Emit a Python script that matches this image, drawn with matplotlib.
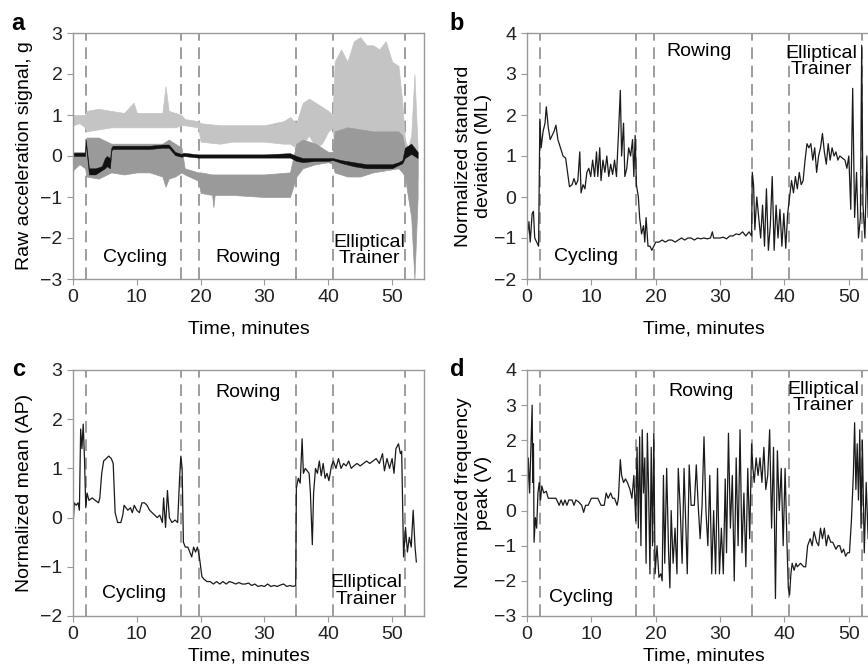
import matplotlib
matplotlib.use("Agg")
import matplotlib.pyplot as plt

plt.rcParams['font.family'] = ['Liberation Sans', 'DejaVu Sans']
plt.rcParams['font.size'] = 14

# activity boundaries (minutes)
boundaries = [2, 17, 19.7, 35, 40.7, 52]

# panel a: raw signal envelopes (light gray, mid gray, black)
light_t = [0, 1, 1.9, 2.1, 4, 6, 8, 9.5, 10, 12, 14, 14.5, 15, 16, 17, 17.5, 19.6, 20, 23, 25, 30, 33, 34, 35,
           36, 37, 38, 39, 40, 40.7, 41, 42, 43, 44, 45, 46, 47, 48, 49, 50, 51, 51.6, 52, 52.5, 53, 53.5, 54]
light_hi = [1.0, 1.0, 1.0, 1.1, 1.15, 1.1, 1.05, 1.3, 1.05, 1.05, 1.05, 1.7, 1.1, 1.05, 1.0, 0.9, 0.85, 0.8,
            0.75, 0.75, 0.75, 0.85, 0.95, 0.8, 1.3, 1.4, 1.3, 1.2, 1.1, 1.0, 2.3, 2.6, 2.3, 2.8, 2.9, 2.7, 2.7,
            2.6, 2.8, 2.3, 2.2, 1.3, 0.4, 0.2, 0.5, 2.0, 0.2]
light_lo = [0.75, 0.8, 0.7, 0.6, 0.65, 0.7, 0.7, 0.7, 0.7, 0.7, 0.7, 0.7, 0.7, 0.7, 0.75, 0.75, 0.7, 0.35,
            0.3, 0.35, 0.35, 0.3, 0.3, 0.2, 0.3, 0.5, 0.2, 0.3, 0.6, 0.7, 0.0, 0.1, 0.1, 0.1, 0.1, 0.1, 0.1,
            0.1, 0.1, 0.1, 0.2, 0.0, -0.3, -0.6, -1.3, -1.5, -0.5]

mid_t = [0, 1, 1.9, 2.1, 4, 6, 8, 10, 12, 14, 14.5, 15, 16, 17, 17.5, 19.6, 20, 21.8, 22, 22.2, 25, 30, 34,
         35, 36, 38, 40, 40.7, 41, 43, 45, 47, 49, 51, 51.6, 52, 53, 53.5, 54]
mid_hi = [0.1, 0.1, 0.1, 0.45, 0.45, 0.3, 0.3, 0.3, 0.3, 0.3, 0.35, 0.4, 0.3, 0.2, -0.3, -0.4, -0.4, -0.45,
          -0.45, -0.45, -0.45, -0.45, -0.4, 0.3, 0.4, 0.3, 0.1, 0.1, 0.6, 0.7, 0.65, 0.6, 0.6, 0.6, 0.5, 0.2,
          0.3, 0.2, 0.1]
mid_lo = [-0.35, -0.2, -0.3, -0.5, -0.55, -0.4, -0.45, -0.4, -0.4, -0.5, -0.75, -0.55, -0.5, -0.4, -0.45,
          -0.6, -0.9, -0.95, -1.25, -0.95, -0.95, -1.0, -1.0, -0.5, -0.3, -0.2, -0.15, -0.2, -0.4, -0.5, -0.5,
          -0.4, -0.35, -0.3, -0.4, -0.5, -1.5, -3.0, -1.0]

blk_t = [0, 1, 1.9, 2.0, 2.5, 3.5, 4.5, 5.0, 5.3, 5.8, 6.0, 6.2, 8, 10, 12, 14, 15, 16, 17, 17.3, 19.6, 20,
         25, 30, 34, 35, 36, 38, 40, 40.7, 42, 44, 46, 48, 50, 51, 51.6, 52, 53, 54]
blk_hi = [0.08, 0.08, 0.08, 0.4, -0.3, -0.3, -0.25, -0.05, 0.0, -0.05, 0.2, 0.25, 0.25, 0.25, 0.25, 0.28,
          0.28, 0.1, 0.05, 0.08, 0.04, 0.04, 0.04, 0.04, 0.07, 0.0, -0.05, -0.05, -0.05, -0.05, -0.1, -0.15,
          -0.2, -0.2, -0.2, -0.15, -0.1, 0.2, 0.3, 0.1]
blk_lo = [0.0, 0.0, 0.0, 0.3, -0.45, -0.45, -0.35, -0.3, -0.25, -0.3, 0.12, 0.17, 0.17, 0.17, 0.17, 0.2,
          0.2, 0.02, -0.02, 0.0, -0.04, -0.04, -0.04, -0.04, -0.04, -0.12, -0.15, -0.12, -0.12, -0.1, -0.17,
          -0.25, -0.3, -0.3, -0.3, -0.22, -0.18, -0.05, 0.05, -0.05]

# panel b: normalized standard deviation (ML)
std_t = [0, 0.3, 0.5, 0.8, 1.0, 1.2, 1.5, 1.8, 2.0, 2.2, 2.5, 2.8, 3.0, 3.3, 3.6, 3.9, 4.2, 4.5, 4.8, 5.2,
         5.6, 6.0, 6.3, 6.6, 7.0, 7.3, 7.6, 7.9, 8.2, 8.4, 8.7, 9.0, 9.3, 9.6, 9.9, 10.2, 10.5, 10.8, 11.0,
         11.3, 11.5, 11.8, 12.1, 12.4, 12.7, 13.0, 13.3, 13.6, 13.9, 14.2, 14.5, 14.7, 15.0, 15.2, 15.5,
         15.8, 16.1, 16.4, 16.6, 16.8, 17.0, 17.3, 17.5, 17.8, 18.1, 18.3, 18.5, 18.8, 19.1, 19.4, 19.7,
         20.0, 20.5, 21, 21.5, 22, 22.5, 23, 23.5, 24, 24.5, 25, 25.5, 26, 26.5, 27, 27.5, 28, 28.5, 28.8,
         29, 29.5, 30, 30.5, 31, 31.5, 32, 32.5, 33, 33.5, 34, 34.5, 34.9, 35.0, 35.2, 35.4, 35.7, 36.0,
         36.3, 36.6, 36.9, 37.2, 37.5, 37.8, 38.1, 38.4, 38.7, 39.0, 39.3, 39.6, 39.9, 40.2, 40.5, 40.8,
         41.1, 41.4, 41.7, 42.0, 42.3, 42.6, 42.9, 43.2, 43.5, 43.8, 44.1, 44.4, 44.7, 45, 45.3, 45.6,
         45.9, 46.2, 46.5, 46.8, 47.1, 47.4, 47.7, 48, 48.3, 48.6, 49, 49.4, 49.7, 50.0, 50.3, 50.6, 50.9,
         51.2, 51.5, 51.8, 52.0, 52.2, 52.5, 52.8, 53.0, 53.3, 53.6, 54.0]
std_v = [-1.0, -0.6, -1.1, -0.4, -0.35, -1.0, -1.1, -1.2, 1.9, 1.2, 1.6, 1.8, 2.2, 1.7, 1.4, 1.5, 1.6, 1.75,
         1.4, 1.2, 1.0, 0.95, 0.6, 0.25, 0.3, 0.45, 0.3, 0.4, 1.1, 0.1, 0.3, 0.2, 0.6, 0.7, 0.5, 0.9, 0.5,
         1.1, 0.5, 1.2, 0.4, 0.9, 0.6, 1.0, 0.5, 0.8, 0.55, 0.9, 0.5, 1.5, 2.6, 1.0, 1.8, 0.5, 0.7, 1.2,
         1.0, 1.4, 0.5, 1.5, 0.3, 0.0, -0.5, -0.9, -0.7, -1.1, -0.5, -1.2, -1.2, -1.3, -1.2, -1.1, -1.1,
         -1.05, -1.1, -1.05, -1.05, -1.1, -1.05, -1.0, -1.05, -1.0, -1.0, -1.05, -1.0, -1.02, -1.0, -1.02,
         -1.0, -0.85, -1.0, -1.0, -1.0, -0.98, -1.02, -0.95, -0.95, -0.9, -0.92, -0.85, -0.95, -0.85, -0.95,
         0.6, 0.3, -0.8, 0.0, -0.5, -1.0, -0.2, -1.2, 0.2, -1.3, -0.7, 0.5, -1.3, -0.2, -1.0, -0.3, -1.2,
         -0.4, -1.25, -0.4, 0.0, 0.4, 0.1, 0.5, 0.2, 0.6, 0.3, 0.4, 0.9, 1.3, 1.2, 1.3, 0.9, 1.2, 0.6, 1.0,
         1.2, 1.55, 1.1, 0.8, 1.3, 0.9, 1.2, 1.0, 1.1, 0.9, 1.0, 0.95, 0.9, 0.7, 1.0, -0.3, 2.65, -0.5,
         0.6, -1.0, -0.5, 3.7, -0.2, -1.0, 1.0, -0.5, 1.5, -1.0, 0.5]

# panel c: normalized mean (AP)
mean_t = [0, 0.2, 0.5, 0.8, 1.0, 1.2, 1.4, 1.6, 1.8, 2.0, 2.2, 2.5, 3.0, 3.5, 4.0, 4.2, 4.5, 4.8, 5.2, 5.6,
          6.0, 6.3, 6.6, 7.0, 7.5, 7.8, 8.0, 8.3, 8.6, 9.0, 9.3, 9.6, 10, 10.4, 10.8, 11.2, 11.6, 12.0,
          12.4, 12.8, 13.2, 13.6, 14.0, 14.2, 14.5, 14.8, 15.1, 15.5, 16, 16.4, 16.7, 16.9, 17.1, 17.3,
          17.6, 18, 18.3, 18.6, 18.9, 19.2, 19.5, 19.8, 20.2, 20.5, 21, 21.5, 22, 22.5, 23, 23.5, 24, 24.5,
          25, 25.5, 26, 26.5, 27, 27.5, 28, 28.5, 29, 29.5, 30, 30.5, 31, 31.5, 32, 32.5, 33, 33.5, 34,
          34.5, 34.9, 35.0, 35.3, 35.6, 35.9, 36.1, 36.4, 36.7, 37.0, 37.2, 37.5, 37.7, 38.0, 38.3, 38.6,
          38.9, 39.2, 39.5, 39.8, 40.1, 40.5, 40.8, 41.2, 41.6, 42.0, 42.4, 42.8, 43.2, 43.6, 44.0, 44.5,
          45, 45.5, 46, 46.5, 47, 47.5, 48, 48.5, 48.8, 49.2, 49.6, 50.0, 50.3, 50.6, 51.0, 51.3, 51.5,
          51.8, 52.1, 52.4, 52.7, 53.0, 53.3, 53.6, 53.8]
mean_v = [-0.2, 0.3, 0.25, 0.3, 0.15, 1.8, 1.4, 1.9, 1.2, 0.2, 0.5, 0.35, 0.4, 0.35, 0.3, 0.4, 0.9, 1.15,
          1.2, 1.25, 1.2, 1.1, 0.1, -0.1, -0.1, 0.05, 0.25, 0.2, 0.15, 0.2, 0.1, 0.25, 0.15, 0.1, 0.3, 0.3,
          0.25, 0.15, 0.1, 0.05, 0.0, 0.05, -0.1, 0.4, -0.2, 0.55, 0.0, -0.1, -0.05, -0.1, 0.8, 1.25, 1.0,
          -0.5, -0.6, -0.6, -0.7, -0.8, -0.6, -0.7, -0.6, -0.8, -1.2, -1.25, -1.3, -1.3, -1.35, -1.3, -1.35,
          -1.3, -1.35, -1.3, -1.32, -1.35, -1.32, -1.35, -1.35, -1.33, -1.38, -1.35, -1.4, -1.38, -1.4,
          -1.35, -1.4, -1.38, -1.4, -1.37, -1.35, -1.4, -1.38, -1.4, -1.38, 0.6, 0.8, 0.7, 1.6, 0.9, 1.0,
          0.95, 0.9, 0.5, -0.55, 0.5, 1.0, 0.9, 1.15, 0.85, 1.1, 0.8, 0.9, 0.75, 1.05, 1.15, 1.0, 1.2, 1.0,
          1.1, 1.05, 1.15, 1.0, 1.05, 1.1, 1.05, 1.1, 1.15, 1.1, 1.15, 1.2, 1.1, 1.3, 0.95, 1.2, 1.0, 1.2,
          0.9, 1.4, 1.5, 1.3, 1.35, -0.8, -0.2, -0.7, -0.4, -0.6, 0.15, -0.6, -0.9]

# panel d: normalized frequency peak (V)
freq_t = [0, 0.2, 0.4, 0.6, 0.8, 0.9, 1.0, 1.1, 1.3, 1.5, 1.7, 1.9, 2.1, 2.3, 2.6, 3.0, 3.3, 4, 4.5, 5, 5.3,
          5.6, 5.9, 6.2, 6.5, 7, 7.3, 7.6, 8, 8.5, 8.8, 9.1, 9.5, 10, 11, 11.5, 12, 12.3, 12.6, 13, 13.3,
          13.6, 14, 14.2, 14.5, 14.7, 15.0, 15.3, 15.6, 16.0, 16.3, 16.6, 16.9, 17.1, 17.3, 17.5, 17.7,
          17.9, 18.1, 18.3, 18.5, 18.7, 18.9, 19.1, 19.3, 19.5, 19.7, 19.9, 20.2, 20.5, 20.8, 21.0, 21.2,
          21.4, 21.7, 22.0, 22.2, 22.4, 22.7, 23.0, 23.3, 23.5, 23.8, 24.1, 24.4, 24.6, 24.9, 25.2, 25.5,
          26, 26.3, 26.6, 26.9, 27.2, 27.5, 27.8, 28.1, 28.4, 28.7, 29.0, 29.3, 29.6, 29.9, 30.2, 30.5,
          30.8, 31.0, 31.3, 31.6, 31.9, 32.2, 32.5, 32.8, 33.1, 33.4, 33.7, 34.0, 34.3, 34.6, 34.9, 35.1,
          35.3, 35.6, 35.9, 36.2, 36.5, 36.8, 37.1, 37.4, 37.7, 38.0, 38.3, 38.6, 38.9, 39.2, 39.5, 39.8,
          40.1, 40.4, 40.6, 40.8, 41.0, 41.2, 41.5, 41.8, 42.0, 42.5, 43, 43.3, 43.6, 44.0, 44.3, 44.6,
          45.0, 45.3, 45.6, 45.9, 46.2, 46.5, 46.8, 47.2, 47.5, 48, 48.3, 48.6, 48.9, 49.2, 49.5, 49.8,
          50.1, 50.4, 50.7, 50.9, 51.1, 51.3, 51.5, 51.7, 51.9, 52.1, 52.4, 52.7, 53.0, 53.3, 53.6, 54]
freq_v = [0.2, 1.5, 0.5, 1.8, 3.0, 0.8, 1.9, -0.9, -0.2, -0.5, 0.5, 0.8, 0.3, 0.7, 0.5, 0.55, 0.35, 0.35,
          0.35, 0.15, 0.3, 0.15, 0.3, 0.15, 0.3, 0.3, 0.15, 0.3, 0.25, 0.15, -0.05, 0.15, 0.15, 0.35, 0.35,
          0.15, 0.15, 0.5, 0.35, 0.5, 0.35, 0.35, 0.15, 0.35, 1.45, 1.0, 0.8, 0.9, 0.8, 0.6, 0.35, 1.0,
          -0.3, 1.8, -0.5, 2.1, -1.0, 2.3, 0.5, 1.5, -1.5, 2.2, 0.5, -1.8, 1.8, -1.0, 2.2, -1.8, -1.0,
          -1.9, -1.8, -2.0, 1.0, -1.5, 1.2, -1.2, -2.2, 0.0, -1.5, -0.5, -1.8, 1.2, 0.1, -1.5, 1.2, 0.0,
          -1.8, 1.3, 0.15, 0.15, 1.3, 0.15, -0.8, 0.15, 2.1, 0.0, -1.0, 1.0, -1.8, 0.0, -1.8, 1.2, -1.8,
          -0.5, -1.8, 0.9, -1.2, 2.2, -0.5, 1.0, -2.0, 1.5, -1.0, 2.3, -1.2, 0.5, -1.6, 1.2, -0.8, 1.9,
          1.2, 0.8, 1.5, 1.0, 1.5, 0.8, 1.8, 0.6, 1.0, 2.3, -0.5, 1.8, -2.5, 1.7, 0.0, 1.2, -1.0, 1.2,
          -1.0, -2.2, -2.4, -1.8, -1.5, -1.7, -1.5, -1.6, -1.5, -1.6, -1.6, -1.0, -0.8, -1.0, -0.6, -0.9,
          -1.0, -0.5, -0.8, -0.5, -1.0, -0.7, -0.9, -0.9, -1.1, -1.0, -1.0, -1.2, -1.1, -1.3, -1.2, -1.2,
          -0.3, 1.0, 2.5, 0.6, 1.9, 0.3, 2.3, -0.5, 2.0, -1.2, 0.8, -0.8, 1.2, -1.5, 0.5]

grey = '#999999'
fig = plt.figure(figsize=(8.68, 6.68), dpi=100)


def px(x, y, w, h):
    # pixel box (left, top, width, height) -> figure fraction
    return [x / 868, 1 - (y + h) / 668, w / 868, h / 668]


def style(ax, ylim, yticks):
    ax.set_xlim(0, 55)
    ax.set_ylim(*ylim)
    ax.set_xticks([0, 10, 20, 30, 40, 50])
    ax.set_yticks(yticks)
    for s in ax.spines.values():
        s.set_color(grey)
        s.set_linewidth(1.0)
    ax.tick_params(direction='out', length=4, color=grey, labelcolor='#222222', labelsize=14)
    for b in boundaries:
        ax.axvline(b, color='#8c8c8c', lw=1.2, dashes=(7, 4), zorder=0)


ax_a = fig.add_axes(px(73, 33, 351, 246))
ax_b = fig.add_axes(px(527, 33, 354, 246))
ax_c = fig.add_axes(px(73, 370, 351, 246))
ax_d = fig.add_axes(px(527, 370, 354, 246))

# a
style(ax_a, (-3, 3), range(-3, 4))
ax_a.fill_between(light_t, light_lo, light_hi, color='#c4c4c4', lw=0.5, edgecolor='#c4c4c4')
ax_a.fill_between(mid_t, mid_lo, mid_hi, color='#9a9a9a', lw=0.5, edgecolor='#9a9a9a')
ax_a.fill_between(blk_t, blk_lo, blk_hi, color='#111111', lw=0.3, edgecolor='#111111')
ax_a.set_ylabel('Raw acceleration signal, g')
ax_a.yaxis.set_label_coords(-0.114, 0.5)
ax_a.set_xlabel('Time, minutes')
ax_a.xaxis.set_label_coords(0.5, -0.17)
ax_a.text(9.8, -2.47, 'Cycling', ha='center', va='center')
ax_a.text(27.4, -2.47, 'Rowing', ha='center', va='center')
ax_a.text(46.4, -2.3, 'Elliptical\nTrainer', ha='center', va='center', linespacing=0.95)

# b
style(ax_b, (-2, 4), range(-2, 5))
ax_b.plot(std_t, std_v, color='#1a1a1a', lw=0.9)
ax_b.set_ylabel('Normalized standard\ndeviation (ML)')
ax_b.yaxis.set_label_coords(-0.1, 0.5)
ax_b.set_xlabel('Time, minutes')
ax_b.xaxis.set_label_coords(0.5, -0.17)
ax_b.text(9.1, -1.46, 'Cycling', ha='center', va='center')
ax_b.text(26.7, 3.54, 'Rowing', ha='center', va='center')
ax_b.text(45.8, 3.3, 'Elliptical\nTrainer', ha='center', va='center', linespacing=0.95)

# c
style(ax_c, (-2, 3), range(-2, 4))
ax_c.plot(mean_t, mean_v, color='#1a1a1a', lw=0.9)
ax_c.set_ylabel('Normalized mean (AP)')
ax_c.yaxis.set_label_coords(-0.114, 0.5)
ax_c.set_xlabel('Time, minutes')
ax_c.xaxis.set_label_coords(0.5, -0.128)
ax_c.text(9.5, -1.55, 'Cycling', ha='center', va='center')
ax_c.text(27.4, 2.55, 'Rowing', ha='center', va='center')
ax_c.text(45.9, -1.49, 'Elliptical\nTrainer', ha='center', va='center', linespacing=0.95)

# d
style(ax_d, (-3, 4), range(-3, 5))
ax_d.plot(freq_t, freq_v, color='#1a1a1a', lw=0.9)
ax_d.set_ylabel('Normalized frequency\npeak (V)')
ax_d.yaxis.set_label_coords(-0.1, 0.5)
ax_d.set_xlabel('Time, minutes')
ax_d.xaxis.set_label_coords(0.5, -0.128)
ax_d.text(8.4, -2.48, 'Cycling', ha='center', va='center')
ax_d.text(27.0, 3.39, 'Rowing', ha='center', va='center')
ax_d.text(46.1, 3.21, 'Elliptical\nTrainer', ha='center', va='center', linespacing=0.95)

for lab, x, y in [('a', 18, 23), ('b', 457, 23), ('c', 19, 370), ('d', 457, 369)]:
    fig.text(x / 868, 1 - y / 668, lab, fontsize=17, fontweight='bold', ha='center', va='center')

fig.savefig('out.png', dpi=100)
